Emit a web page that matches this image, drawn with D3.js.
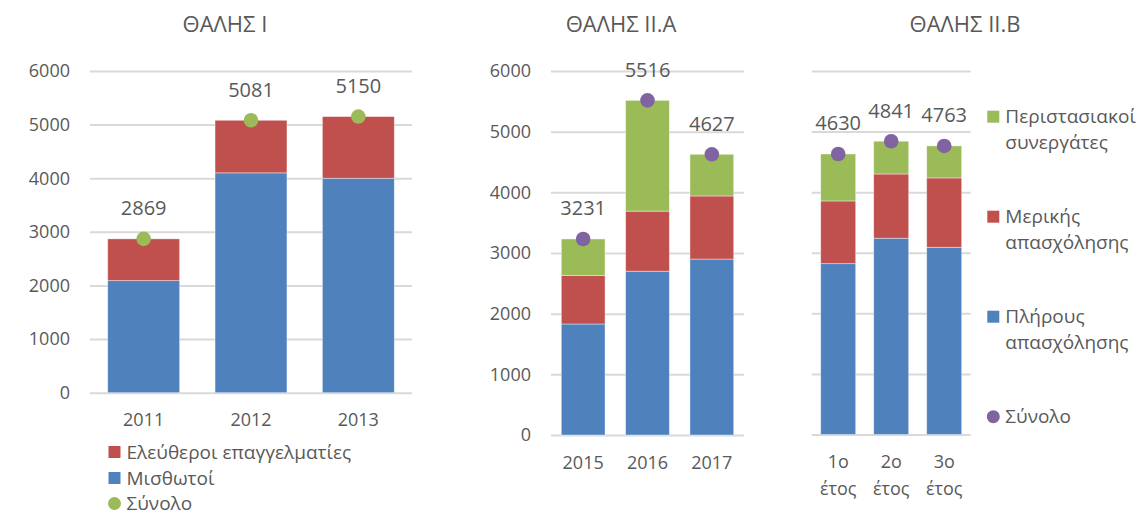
<!DOCTYPE html>
<html>
<head>
<meta charset="utf-8">
<script src="https://cdn.jsdelivr.net/npm/d3@7"></script>
<style>
  body { margin: 0; background: #fff; }
  svg { font-family: "Open Sans", sans-serif; fill: #595959; }
  .grid line { stroke: #d9d9d9; stroke-width: 2; }
  .grid .domain { display: none; }
</style>
</head>
<body>
<div id="chart"></div>
<script>
// ---- data ----
// ΘΑΛΗΣ Ι
const years1 = ["2011", "2012", "2013"];
const misthotoi = [2090, 4100, 4000];
const eleftheroi = [779, 981, 1150];
const total1 = [2869, 5081, 5150];

// ΘΑΛΗΣ ΙΙ.Α
const years2 = ["2015", "2016", "2017"];
const plirous2 = [1830, 2700, 2900];
const merikis2 = [800, 990, 1040];
const peristasiakoi2 = [601, 1826, 687];
const total2 = [3231, 5516, 4627];

// ΘΑΛΗΣ ΙΙ.Β
const years3 = [["1ο", "έτος"], ["2ο", "έτος"], ["3ο", "έτος"]];
const plirous3 = [2820, 3240, 3090];
const merikis3 = [1035, 1060, 1145];
const peristasiakoi3 = [775, 541, 529];
const total3 = [4630, 4841, 4763];

const yTicks = [0, 1000, 2000, 3000, 4000, 5000, 6000];

const blue = "#4f81bd", red = "#c0504d", green = "#9bbb59", purple = "#8064a2";

let svg = d3.select("#chart").append("svg")
  .attr("width", 1142)
  .attr("height", 515);

//------------------------------------------------------------------------------------->
function panel(opt) {
  let g = svg.append("g");

  let xScale = d3.scaleBand()
    .domain(d3.range(opt.cats.length))
    .range([opt.x0, opt.x1])
    .paddingInner(opt.pad)
    .paddingOuter(opt.pad / 2);
  let yScale = d3.scaleLinear().domain([0, 6000]).range([opt.y0, 71]);

  // gridlines
  g.append("g")
    .attr("class", "grid")
    .attr("transform", "translate(" + opt.x0 + ",0)")
    .call(d3.axisLeft(yScale).tickValues(yTicks).tickSize(-(opt.x1 - opt.x0)).tickFormat(""));

  // tick labels
  if (opt.showY) {
    g.selectAll(".ylab")
      .data(yTicks)
      .enter()
      .append("text")
      .attr("x", opt.x0 - 20)
      .attr("y", d => yScale(d))
      .attr("dy", "0.35em")
      .attr("text-anchor", "end")
      .style("font-size", "18px")
      .text(d => d);
  }

  // stacked bars
  let keys = opt.series.map((s, i) => i);
  let rows = opt.cats.map((c, j) => {
    let r = {};
    opt.series.forEach((s, i) => r[i] = s.values[j]);
    return r;
  });
  let stack = d3.stack().keys(keys)(rows);

  g.selectAll(".layer")
    .data(stack)
    .enter()
    .append("g")
    .attr("fill", (d, i) => opt.series[i].color)
    .selectAll("rect")
    .data(d => d)
    .enter()
    .append("rect")
    .attr("x", (d, j) => xScale(j))
    .attr("width", xScale.bandwidth())
    .attr("y", d => yScale(d[1]))
    .attr("height", d => yScale(d[0]) - yScale(d[1]))
    .attr("stroke", "#fff")
    .attr("stroke-opacity", 0.5)
    .attr("stroke-width", 0.8);

  // total dots and labels
  g.selectAll(".dot")
    .data(opt.total)
    .enter()
    .append("circle")
    .attr("cx", (d, j) => xScale(j) + xScale.bandwidth() / 2)
    .attr("cy", d => yScale(d))
    .attr("r", 7.3)
    .attr("fill", opt.dotColor);

  g.selectAll(".tot")
    .data(opt.total)
    .enter()
    .append("text")
    .attr("x", (d, j) => xScale(j) + xScale.bandwidth() / 2)
    .attr("y", d => yScale(d) - 30.5)
    .attr("dy", "0.35em")
    .attr("text-anchor", "middle")
    .style("font-size", "20px")
    .text(d => d);

  // x labels
  g.selectAll(".xlab")
    .data(opt.cats)
    .enter()
    .append("text")
    .attr("x", (d, j) => xScale(j) + xScale.bandwidth() / 2)
    .attr("y", opt.xLabY)
    .attr("text-anchor", "middle")
    .style("font-size", "18px")
    .each(function (d) {
      let lines = Array.isArray(d) ? d : [d];
      d3.select(this).selectAll("tspan")
        .data(lines)
        .enter()
        .append("tspan")
        .attr("x", d3.select(this).attr("x"))
        .attr("dy", (l, k) => k == 0 ? "0.35em" : "26.5px")
        .text(l => l);
    });

  // title
  g.append("text")
    .attr("x", opt.titleX)
    .attr("y", 24.5)
    .attr("dy", "0.35em")
    .attr("text-anchor", "middle")
    .style("font-size", "22px")
    .text(opt.title);
}

panel({
  title: "ΘΑΛΗΣ Ι", titleX: 225,
  cats: years1, x0: 90, x1: 412, y0: 392.7, pad: 0.33, showY: true, xLabY: 420,
  series: [{ values: misthotoi, color: blue }, { values: eleftheroi, color: red }],
  total: total1, dotColor: green
});

panel({
  title: "ΘΑΛΗΣ ΙΙ.Α", titleX: 621,
  cats: years2, x0: 551, x1: 744, y0: 435, pad: 0.32, showY: true, xLabY: 462.7,
  series: [{ values: plirous2, color: blue }, { values: merikis2, color: red }, { values: peristasiakoi2, color: green }],
  total: total2, dotColor: purple
});

panel({
  title: "ΘΑΛΗΣ ΙΙ.Β", titleX: 965,
  cats: years3, x0: 811.7, x1: 970.7, y0: 434.5, pad: 0.34, showY: false, xLabY: 461.7,
  series: [{ values: plirous3, color: blue }, { values: merikis3, color: red }, { values: peristasiakoi3, color: green }],
  total: total3, dotColor: purple
});

//------------------------------------------------------------------------------------->
// legends
let legend1 = [
  { label: ["Ελεύθεροι επαγγελματίες"], color: red, y: 452, shape: "rect" },
  { label: ["Μισθωτοί"], color: blue, y: 478, shape: "rect" },
  { label: ["Σύνολο"], color: green, y: 503.5, shape: "circle" }
];
let legend3 = [
  { label: ["Περιστασιακοί", "συνεργάτες"], color: green, y: 116.7, shape: "rect" },
  { label: ["Μερικής", "απασχόλησης"], color: red, y: 216.7, shape: "rect" },
  { label: ["Πλήρους", "απασχόλησης"], color: blue, y: 316.7, shape: "rect" },
  { label: ["Σύνολο"], color: purple, y: 416.7, shape: "circle" }
];

function legend(items, x) {
  let lg = svg.append("g").selectAll("g")
    .data(items)
    .enter()
    .append("g")
    .attr("transform", d => "translate(" + x + "," + d.y + ")");

  lg.filter(d => d.shape == "rect")
    .append("rect")
    .attr("x", 0).attr("y", -6).attr("width", 12).attr("height", 12)
    .attr("fill", d => d.color);
  lg.filter(d => d.shape == "circle")
    .append("circle")
    .attr("cx", 6).attr("cy", 0).attr("r", 6.5)
    .attr("fill", d => d.color);

  lg.append("text")
    .attr("x", 18)
    .style("font-size", "19px")
    .selectAll("tspan")
    .data(d => d.label)
    .enter()
    .append("tspan")
    .attr("x", 18)
    .attr("y", (l, k) => k * 26)
    .attr("dy", "0.35em")
    .text(l => l);
}

legend(legend1, 108.5);
legend(legend3, 987.3);
</script>
</body>
</html>
